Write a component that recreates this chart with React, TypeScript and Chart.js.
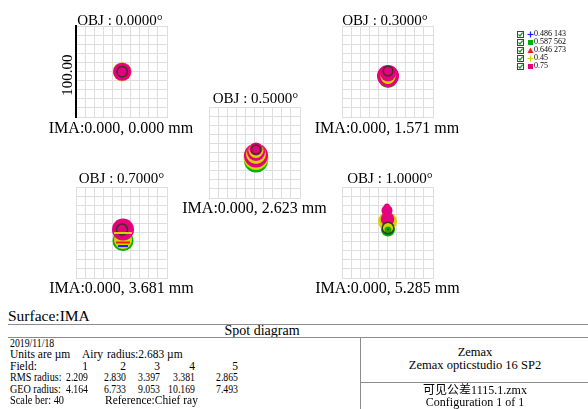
import React, { useEffect, useRef } from 'react';
import { Chart, registerables } from 'chart.js';

Chart.register(...registerables);

// ---------------- data ----------------
const WAVELENGTHS = ['0.486 143', '0.587 562', '0.646 273', '0.45', '0.75'];
const LEGEND_SYMBOLS = ['plus', 'square', 'triangle', 'plus', 'square'];
const FIELD_ANGLES = ['0.0000', '0.3000', '0.5000', '0.7000', '1.0000'];
const IMA_HEIGHTS = ['0.000', '1.571', '2.623', '3.681', '5.285'];
const FIELD_NUMBERS = ['1', '2', '3', '4', '5'];
const RMS_RADIUS = ['2.209', '2.830', '3.397', '3.381', '2.865'];
const GEO_RADIUS = ['4.164', '6.733', '9.053', '10.169', '7.493'];
const AIRY_RADIUS = '2.683';
const SCALE_BAR = '40';
const SCALE_LABEL = '100.00';
const AXIS_MIN = -20;
const AXIS_MAX = 20;
const GRID_STEP = 4;

// spot marks: [wavelength index (-1 = overlapping rays), x µm, y µm, radius µm, kind D=disc R=ring B=band]
type Mark = [number, number, number, number, string];
const SPOT_FIELD_1: Mark[] = [
  [3, 0.3, -0.1, 4.15, 'D'],
  [4, 0.3, -0.1, 4.0, 'D'],
  [-1, 0.3, -0.1, 2.3, 'R'],
];
const SPOT_FIELD_2: Mark[] = [
  [1, 0.22, -3.1, 4.1, 'D'],
  [4, 0.22, -1.98, 4.84, 'D'],
  [3, 0.22, -2.2, 3.3, 'D'],
  [4, 0.22, -1.1, 3.3, 'D'],
  [-1, 0.22, 0.22, 2.11, 'R'],
];
const SPOT_FIELD_3: Mark[] = [
  [1, 0.66, -3.52, 5.27, 'D'],
  [3, 0.66, -2.2, 5.49, 'D'],
  [4, 0.66, -1.32, 5.27, 'D'],
  [3, 0.66, -0.66, 4.4, 'D'],
  [4, 0.66, 0.22, 3.96, 'D'],
  [3, 0.66, 0.88, 3.3, 'D'],
  [4, 0.66, 1.54, 2.86, 'D'],
  [-1, 0.66, 1.32, 1.98, 'R'],
];
const SPOT_FIELD_4: Mark[] = [
  [1, 0.66, -3.52, 4.62, 'D'],
  [3, 0.66, -3.3, 3.96, 'D'],
  [2, 0.66, -4.4, 3.08, 'B'],
  [0, 0.66, -5.93, 2.2, 'B'],
  [4, 0.66, 1.32, 4.84, 'D'],
  [-1, 0.22, 1.32, 2.42, 'R'],
  [3, 0.66, -0.22, 3.96, 'B'],
];
const SPOT_FIELD_5: Mark[] = [
  [1, 0.22, 1.32, 3.08, 'D'],
  [3, 0, 4.84, 4.18, 'D'],
  [4, 0, 5.93, 2.99, 'D'],
  [4, -0.22, 9.67, 2.42, 'D'],
  [4, -0.22, 11.43, 1.32, 'D'],
  [3, 0.22, 1.76, 2.42, 'D'],
  [1, 0.22, 1.1, 1.54, 'D'],
  [-1, 0.22, 1.98, 2.55, 'R'],
  [-1, 0.22, 1.32, 0.45, 'D'],
];
const SPOTS = [SPOT_FIELD_1, SPOT_FIELD_2, SPOT_FIELD_3, SPOT_FIELD_4, SPOT_FIELD_5];

// ---------------- layout / style ----------------
const SERIF = "'Liberation Serif', 'Times New Roman', 'Noto Sans CJK SC', serif";
const WL_COLORS = ['#1e1eff', '#00b000', '#ff1a1a', '#d4d400', '#e5007d'];
const OVERLAP_COLOR = '#3c3524';
const GRID_COLOR = '#dedede';
const RULE_COLOR = '#8c8c8c';
const BOX = 91;
const PAD = 2;
const PLOT_BOXES = [
  { left: 76, top: 26 },
  { left: 342, top: 26 },
  { left: 209, top: 107 },
  { left: 76, top: 187 },
  { left: 342, top: 187 },
];
const TITLE_POS = [
  [120, 20],
  [385, 20],
  [255.5, 98],
  [121.5, 178],
  [390, 178],
];
const IMA_POS = [
  [121, 128],
  [387, 128],
  [254.5, 208],
  [121.5, 288],
  [387.5, 288],
];
const COLS = [88, 126, 160, 195, 238];
const ROWS = [343.5, 355, 366.5, 378, 389.5, 401];

const colorOf = (w: number) => (w < 0 ? OVERLAP_COLOR : WL_COLORS[w]);
const unitPx = (chart: any) => {
  const s = chart.scales.x;
  return Math.abs(s.getPixelForValue(1) - s.getPixelForValue(0));
};

function SpotPlot({ marks, left, top, scaleBar }: { marks: Mark[]; left: number; top: number; scaleBar: boolean }) {
  const ref = useRef<HTMLCanvasElement | null>(null);
  useEffect(() => {
    const axis = (isY: boolean) => ({
      type: 'linear' as const,
      min: AXIS_MIN,
      max: AXIS_MAX,
      ticks: { display: false, stepSize: GRID_STEP },
      grid: { color: GRID_COLOR, drawTicks: false, lineWidth: 1 },
      border: isY && scaleBar ? { color: '#000', width: 2 } : { color: GRID_COLOR, width: 1 },
    });
    const chart = new Chart(ref.current as HTMLCanvasElement, {
      type: 'scatter',
      data: {
        datasets: [
          {
            data: marks.map(([w, x, y, r, k]) => ({ x, y, r, w, k })) as any,
            pointStyle: ((ctx: any) => (ctx.raw && ctx.raw.k === 'B' ? 'line' : 'circle')) as any,
            pointRadius: ((ctx: any) => (ctx.raw ? ctx.raw.r * unitPx(ctx.chart) : 0)) as any,
            pointBackgroundColor: ((ctx: any) =>
              ctx.raw && ctx.raw.k === 'D' ? colorOf(ctx.raw.w) : 'rgba(0,0,0,0)') as any,
            pointBorderColor: ((ctx: any) => (ctx.raw ? colorOf(ctx.raw.w) : '#000')) as any,
            pointBorderWidth: ((ctx: any) =>
              !ctx.raw || ctx.raw.k === 'D' ? 0 : ctx.raw.k === 'R' ? 1.5 : 2) as any,
            pointHoverRadius: ((ctx: any) => (ctx.raw ? ctx.raw.r * unitPx(ctx.chart) : 0)) as any,
          },
        ],
      },
      options: {
        animation: false,
        responsive: false,
        devicePixelRatio: 1,
        events: [],
        layout: { padding: PAD },
        plugins: { legend: { display: false }, tooltip: { enabled: false }, title: { display: false } },
        scales: { x: axis(false), y: axis(true) } as any,
      },
    });
    return () => chart.destroy();
  }, []);
  const size = BOX + 2 * PAD;
  return (
    <canvas
      ref={ref}
      width={size}
      height={size}
      style={{ position: 'absolute', left: left - PAD, top: top - PAD, width: size, height: size }}
    />
  );
}

function Txt({
  x,
  y,
  size,
  align = 'center',
  sx = 1,
  children,
}: {
  x: number;
  y: number;
  size: number;
  align?: string;
  sx?: number;
  children: any;
}) {
  const tx = align === 'center' ? '-50%' : align === 'right' ? '-100%' : '0';
  const origin = align === 'center' ? 'center center' : align === 'right' ? 'right center' : 'left center';
  return (
    <div
      style={{
        position: 'absolute',
        left: x,
        top: y,
        transform: `translate(${tx}, -50%)${sx !== 1 ? ` scaleX(${sx})` : ''}`,
        transformOrigin: origin,
        fontSize: size,
        lineHeight: 1,
        height: size,
        whiteSpace: 'pre',
        fontFamily: SERIF,
        color: '#000',
      }}
    >
      {children}
    </div>
  );
}

function LegendSymbol({ kind, color }: { kind: string; color: string }) {
  return (
    <svg width={7} height={7} style={{ position: 'absolute', left: -3.5, top: -3.5 }}>
      {kind === 'plus' && (
        <g stroke={color} strokeWidth={1.2}>
          <line x1={0.5} y1={3.5} x2={6.5} y2={3.5} />
          <line x1={3.5} y1={0.5} x2={3.5} y2={6.5} />
        </g>
      )}
      {kind === 'square' && <rect x={1} y={1} width={5} height={5} fill={color} />}
      {kind === 'triangle' && <polygon points="3.5,0.5 6.5,6 0.5,6" fill={color} />}
    </svg>
  );
}

function Legend() {
  const rows = [34, 42, 50, 58, 66];
  return (
    <>
      {WAVELENGTHS.map((wl, i) => (
        <React.Fragment key={wl}>
          <svg width={7} height={7} style={{ position: 'absolute', left: 516.5, top: rows[i] - 3.5 }}>
            <rect x={0.5} y={0.5} width={6} height={6} fill="#fff" stroke="#444" strokeWidth={1} />
            <polyline points="1.5,3.5 3,5 5.6,1.6" fill="none" stroke="#1a9a1a" strokeWidth={1.3} />
          </svg>
          <div style={{ position: 'absolute', left: 530, top: rows[i] }}>
            <LegendSymbol kind={LEGEND_SYMBOLS[i]} color={WL_COLORS[i]} />
          </div>
          <Txt x={534} y={rows[i]} size={8} align="left">
            {wl}
          </Txt>
        </React.Fragment>
      ))}
    </>
  );
}

function HLine({ x1, x2, y }: { x1: number; x2: number; y: number }) {
  return <div style={{ position: 'absolute', left: x1, top: y, width: x2 - x1, height: 0, borderTop: `1px solid ${RULE_COLOR}` }} />;
}
function VLine({ x, y1, y2 }: { x: number; y1: number; y2: number }) {
  return <div style={{ position: 'absolute', left: x, top: y1, width: 0, height: y2 - y1, borderLeft: `1px solid ${RULE_COLOR}` }} />;
}

export default function App() {
  const F = 11.5;
  const NUM_SX = 0.85;
  return (
    <div style={{ position: 'absolute', left: 0, top: 0, width: 588, height: 409, background: '#fff', overflow: 'hidden' }}>
      {SPOTS.map((marks, i) => (
        <SpotPlot key={i} marks={marks} left={PLOT_BOXES[i].left} top={PLOT_BOXES[i].top} scaleBar={i === 0} />
      ))}
      {FIELD_ANGLES.map((a, i) => (
        <Txt key={'t' + i} x={TITLE_POS[i][0]} y={TITLE_POS[i][1]} size={15}>
          {`OBJ : ${a}°`}
        </Txt>
      ))}
      {IMA_HEIGHTS.map((h, i) => (
        <Txt key={'m' + i} x={IMA_POS[i][0]} y={IMA_POS[i][1]} size={16}>
          {`IMA:0.000, ${h} mm`}
        </Txt>
      ))}
      <div
        style={{
          position: 'absolute',
          left: 67,
          top: 75,
          transform: 'translate(-50%, -50%) rotate(-90deg)',
          fontSize: 15,
          lineHeight: 1,
          fontFamily: SERIF,
          whiteSpace: 'pre',
        }}
      >
        {SCALE_LABEL}
      </div>
      <Legend />

      <Txt x={8} y={316} size={15.5} align="left">
        Surface:IMA
      </Txt>
      <HLine x1={8} x2={588} y={324} />
      <Txt x={262} y={331} size={14}>
        Spot diagram
      </Txt>
      <HLine x1={8} x2={588} y={337} />
      <VLine x={360} y1={337} y2={409} />
      <HLine x1={360} x2={588} y={382} />

      <Txt x={10} y={ROWS[0]} size={F} align="left" sx={0.85}>
        2019/11/18
      </Txt>
      <Txt x={10} y={ROWS[1]} size={F} align="left">
        Units are µm
      </Txt>
      <Txt x={82} y={ROWS[1]} size={F} align="left">
        Airy
      </Txt>
      <Txt x={107} y={ROWS[1]} size={F} align="left">
        {`radius:${AIRY_RADIUS} µm`}
      </Txt>
      <Txt x={10} y={ROWS[2]} size={F} align="left">
        Field:
      </Txt>
      <Txt x={10} y={ROWS[3]} size={F} align="left" sx={0.88}>
        RMS radius:
      </Txt>
      <Txt x={10} y={ROWS[4]} size={F} align="left" sx={0.88}>
        GEO radius:
      </Txt>
      {FIELD_NUMBERS.map((n, i) => (
        <Txt key={'f' + i} x={COLS[i]} y={ROWS[2]} size={F} align="right">
          {n}
        </Txt>
      ))}
      {RMS_RADIUS.map((v, i) => (
        <Txt key={'r' + i} x={COLS[i]} y={ROWS[3]} size={F} align="right" sx={NUM_SX}>
          {v}
        </Txt>
      ))}
      {GEO_RADIUS.map((v, i) => (
        <Txt key={'g' + i} x={COLS[i]} y={ROWS[4]} size={F} align="right" sx={NUM_SX}>
          {v}
        </Txt>
      ))}
      <Txt x={10} y={ROWS[5]} size={F} align="left" sx={0.9}>
        {`Scale ber: ${SCALE_BAR}`}
      </Txt>
      <Txt x={105} y={ROWS[5]} size={F} align="left">
        Reference:Chief ray
      </Txt>

      <Txt x={475} y={352} size={12.5}>
        Zemax
      </Txt>
      <Txt x={475} y={364.5} size={12.5}>
        Zemax opticstudio 16 SP2
      </Txt>
      <Txt x={475} y={389.5} size={12}>
        可见公差1115.1.zmx
      </Txt>
      <Txt x={475} y={402} size={12}>
        Configuration 1 of 1
      </Txt>
    </div>
  );
}
